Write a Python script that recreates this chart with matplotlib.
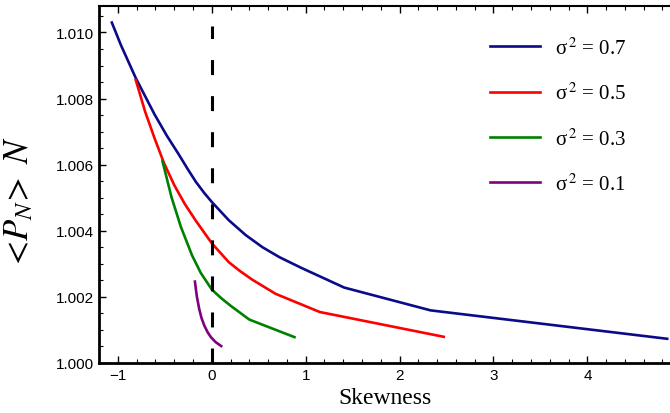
import matplotlib
matplotlib.use("Agg")
import matplotlib.pyplot as plt
from matplotlib.ticker import MultipleLocator, FormatStrFormatter

plt.rcParams['mathtext.fontset'] = 'stix'
plt.rcParams['font.family'] = ['Liberation Sans', 'DejaVu Sans']

# mean photon number <P_N>N vs skewness, one curve per variance
skew_07 = [-1.065, -0.97, -0.81, -0.61, -0.48, -0.35, -0.26, -0.17, -0.08, 0.0,
           0.18, 0.36, 0.54, 0.72, 0.95, 1.41, 2.33, 4.85]
pn_07 = [1.01030, 1.00963, 1.00862, 1.00752, 1.00688, 1.00630, 1.00588, 1.00548,
         1.00514, 1.00487, 1.00432, 1.00387, 1.00350, 1.00320, 1.00288, 1.00228,
         1.00159, 1.00073]

skew_05 = [-0.81, -0.71, -0.61, -0.51, -0.40, -0.29, -0.17, -0.08, 0.0,
           0.18, 0.30, 0.43, 0.68, 1.15, 2.47]
pn_05 = [1.00856, 1.00760, 1.00680, 1.00605, 1.00538, 1.00482, 1.00430, 1.00394,
         1.00362, 1.00305, 1.00278, 1.00252, 1.00209, 1.00154, 1.00079]

skew_03 = [-0.525, -0.43, -0.33, -0.21, -0.117, 0.0, 0.10, 0.20, 0.40, 0.88]
pn_03 = [1.00610, 1.00502, 1.00412, 1.00325, 1.00272, 1.00222, 1.00196, 1.00173,
         1.00131, 1.00078]

skew_01 = [-0.18, -0.16, -0.135, -0.11, -0.08, -0.045, -0.01, 0.04, 0.10]
pn_01 = [1.00246, 1.00202, 1.00164, 1.00136, 1.00113, 1.00093, 1.00078, 1.00063,
         1.00051]

labels = [r'σ$^{\,2}$ = 0.7', r'σ$^{\,2}$ = 0.5', r'σ$^{\,2}$ = 0.3', r'σ$^{\,2}$ = 0.1']
colors = ['#0a0a8a', '#ff0000', '#008000', '#800080']

fig = plt.figure(figsize=(6.7, 4.14), dpi=100)
ax = fig.add_axes([0.148, 0.121, 0.852, 0.862])

series = [(skew_07, pn_07), (skew_05, pn_05), (skew_03, pn_03), (skew_01, pn_01)]
for (xs, ys), c, lab in zip(series, colors, labels):
    ax.plot(xs, ys, color=c, lw=1.9, label=lab)

# zero-skewness marker
ax.plot([0, 0], [1.0, 1.0102], color='black', lw=2.2, dashes=(4.9, 6.9))

ax.set_xlim(-1.2, 4.88)
ax.set_ylim(1.0, 1.0108)
ax.xaxis.set_major_locator(MultipleLocator(1))
ax.xaxis.set_minor_locator(MultipleLocator(0.2))
ax.yaxis.set_major_locator(MultipleLocator(0.002))
ax.yaxis.set_minor_locator(MultipleLocator(0.0005))
ax.yaxis.set_major_formatter(FormatStrFormatter('%.3f'))
ax.tick_params(which='both', direction='in', top=True, right=False, labelsize=11)
ax.tick_params(which='major', length=5, width=1)
ax.tick_params(which='minor', length=3, width=0.8)

ax.spines['right'].set_visible(False)
ax.spines['left'].set_linewidth(2)
ax.spines['bottom'].set_linewidth(2)
ax.spines['top'].set_linewidth(1.5)

ax.set_xlabel('Skewness', family='Liberation Serif', fontsize=17, labelpad=4)
ax.set_ylabel(r'$<\!P_N\!>\ N$', fontsize=25)
ax.yaxis.set_label_coords(-0.112, 0.45)

leg = ax.legend(loc='upper left', bbox_to_anchor=(0.652, 0.965), frameon=False,
                prop={'family': 'Liberation Serif', 'size': 15},
                handlelength=2.4, handletextpad=0.7, labelspacing=1.15)

fig.savefig('out.png', dpi=100)
